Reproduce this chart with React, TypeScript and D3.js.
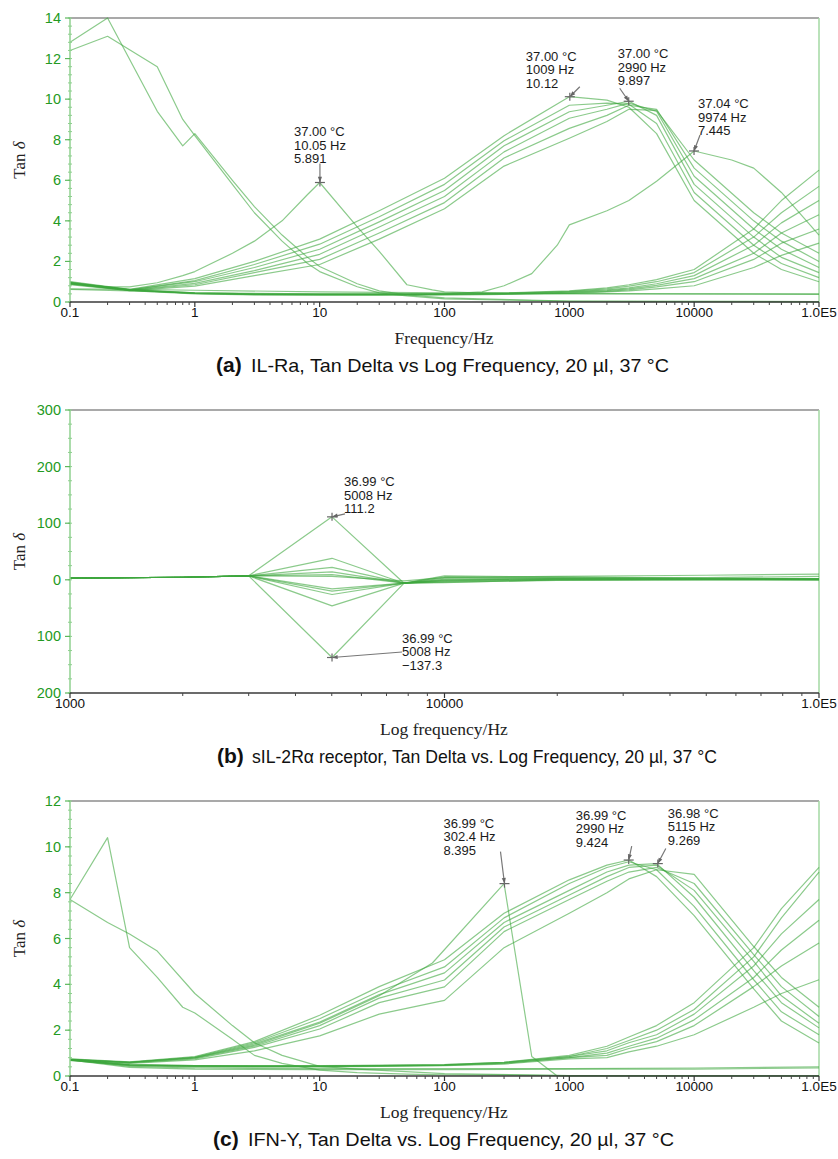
import { useEffect, useRef } from 'react';
import * as d3 from 'd3';

type Series = [number, number][];

// ---------- panel (a): IL-Ra ----------
const A_FREQ = [0.1, 0.3, 1, 3, 10, 30, 100, 300, 1000, 2000, 3000, 5000, 10000, 30000, 50000, 100000];
// bundle that rises to a peak near 1-5 kHz
const A_PEAK = [
  [0.95, 0.62, 1.15, 2.0, 3.1, 4.5, 6.1, 8.2, 10.12, 9.95, 9.6, 8.3, 5.0, 2.4, 1.6, 1.0],
  [0.93, 0.6, 1.05, 1.85, 2.85, 4.2, 5.8, 7.95, 9.7, 9.8, 9.75, 8.8, 5.4, 2.8, 1.9, 1.2],
  [0.92, 0.6, 1.0, 1.7, 2.6, 3.95, 5.5, 7.7, 9.38, 9.7, 9.897, 9.2, 5.8, 3.2, 2.2, 1.45],
  [0.9, 0.58, 0.92, 1.55, 2.35, 3.7, 5.2, 7.4, 9.06, 9.5, 9.8, 9.4, 6.2, 3.6, 2.6, 1.7],
  [0.88, 0.58, 0.85, 1.45, 2.1, 3.4, 4.9, 7.1, 8.56, 9.2, 9.7, 9.5, 6.6, 4.0, 3.0, 2.0],
  [0.85, 0.56, 0.78, 1.3, 1.85, 3.1, 4.6, 6.7, 8.07, 8.9, 9.5, 9.45, 7.0, 4.4, 3.4, 2.4],
];
// bundle that stays low and rises above 10 kHz
const A_LATE = [
  [1.0, 0.62, 0.45, 0.4, 0.4, 0.4, 0.42, 0.45, 0.55, 0.7, 0.85, 1.1, 1.6, 3.6, 5.0, 6.5],
  [0.98, 0.6, 0.45, 0.4, 0.38, 0.38, 0.4, 0.43, 0.52, 0.65, 0.78, 1.0, 1.45, 3.2, 4.4, 5.7],
  [0.96, 0.6, 0.43, 0.38, 0.37, 0.37, 0.38, 0.42, 0.5, 0.6, 0.7, 0.9, 1.3, 2.8, 3.9, 5.0],
  [0.95, 0.58, 0.42, 0.37, 0.36, 0.36, 0.37, 0.4, 0.48, 0.56, 0.65, 0.82, 1.15, 2.4, 3.4, 4.3],
  [0.93, 0.58, 0.42, 0.36, 0.35, 0.35, 0.36, 0.38, 0.45, 0.52, 0.6, 0.75, 1.0, 2.1, 2.9, 3.6],
  [0.9, 0.56, 0.4, 0.35, 0.34, 0.34, 0.35, 0.37, 0.43, 0.5, 0.55, 0.65, 0.8, 1.7, 2.3, 2.9],
];
const A_HIGH_FREQ = [0.1, 0.2, 0.5, 0.8, 1, 2, 3, 5, 8, 10, 20, 30, 50, 100, 1000, 100000];
const A_HIGH_1 = [12.8, 14.0, 9.4, 7.7, 8.3, 6.0, 4.7, 3.3, 2.2, 1.75, 0.9, 0.55, 0.35, 0.2, 0.05, 0.02];
const A_HIGH_2 = [12.4, 13.1, 11.6, 9.0, 8.2, 5.8, 4.4, 3.0, 1.9, 1.5, 0.75, 0.45, 0.3, 0.15, 0.03, 0.0];
const A_SPIKE_FREQ = [0.1, 0.2, 0.3, 0.5, 0.8, 1, 2, 3, 5, 8, 10, 20, 30, 50, 80, 100, 300, 1000, 100000];
const A_SPIKE = [0.9, 0.75, 0.75, 0.95, 1.3, 1.5, 2.4, 3.0, 4.0, 5.3, 5.891, 3.7, 2.5, 0.85, 0.6, 0.5, 0.42, 0.4, 0.38];
const A_MID_FREQ = [0.1, 0.3, 1, 10, 100, 200, 300, 500, 800, 1000, 2000, 3000, 5000, 10000, 20000, 30000, 50000, 100000];
const A_MID = [0.62, 0.55, 0.45, 0.4, 0.4, 0.5, 0.8, 1.4, 2.8, 3.8, 4.5, 5.0, 5.95, 7.445, 7.0, 6.6, 5.4, 3.3];
const A_FLAT_FREQ = [0.1, 0.3, 1, 10, 100, 1000, 100000];
const A_FLAT = [0.65, 0.62, 0.58, 0.5, 0.45, 0.42, 0.4];

// ---------- panel (b): sIL-2Ra receptor ----------
const B_FREQ = [1000, 2000, 3000, 5008, 7800, 10000, 20000, 50000, 100000];
const B_VALUES = [
  [3, 4.5, 7, 111.2, -6, 7, 5, 3, 2],
  [3, 4.5, 7, 38, -6, 5, 4, 2, 2],
  [3, 4.5, 7, 22, -6, 3, 3, 2, 1],
  [3, 4.5, 7, 14, -6, 1, 2, 1, 1],
  [3, 4.5, 7, 9, -6, -1, 1, 1, 0],
  [3, 4.5, 7, -16, -6, -3, 0, 0, 0],
  [3, 4.5, 7, -20, -6, -4, -1, 0, 0],
  [3, 4.5, 7, -26, -6, -5, 0, 1, 1],
  [3, 4.5, 7, -46, -6, -2, 1, 1, 2],
  [3, 4.5, 7, -137.3, -6, 0, 2, 4, 6],
  [3, 4.5, 7, 6, -2, 4, 6, 8, 10],
];

// ---------- panel (c): IFN-Y ----------
const C_FREQ = [0.1, 0.3, 1, 3, 10, 30, 100, 300, 1000, 2000, 3000, 5000, 10000, 30000, 50000, 100000];
const C_PEAK = [
  [0.75, 0.62, 0.85, 1.5, 2.65, 3.9, 5.07, 7.1, 8.56, 9.2, 9.424, 8.7, 7.0, 3.8, 2.4, 1.44],
  [0.74, 0.6, 0.82, 1.45, 2.5, 3.7, 4.76, 6.9, 8.4, 9.1, 9.35, 9.0, 7.4, 4.2, 2.8, 1.8],
  [0.72, 0.6, 0.8, 1.4, 2.35, 3.55, 4.5, 6.7, 8.1, 8.9, 9.2, 9.269, 7.8, 4.6, 3.2, 2.1],
  [0.72, 0.58, 0.78, 1.3, 2.2, 3.4, 4.19, 6.5, 7.9, 8.7, 9.1, 9.2, 8.1, 5.0, 3.5, 2.3],
  [0.7, 0.57, 0.75, 1.25, 2.05, 3.2, 3.89, 6.3, 7.7, 8.5, 8.9, 9.1, 8.4, 5.3, 3.9, 2.6],
  [0.7, 0.55, 0.7, 1.1, 1.75, 2.7, 3.3, 5.6, 7.1, 8.0, 8.6, 9.0, 8.8, 5.65, 4.3, 3.0],
];
const C_LATE = [
  [0.72, 0.5, 0.45, 0.45, 0.45, 0.47, 0.5, 0.6, 0.9, 1.3, 1.7, 2.2, 3.2, 5.6, 7.3, 9.1],
  [0.72, 0.5, 0.45, 0.44, 0.44, 0.46, 0.5, 0.6, 0.85, 1.2, 1.55, 2.0, 2.9, 5.2, 6.9, 8.9],
  [0.7, 0.48, 0.44, 0.43, 0.43, 0.45, 0.48, 0.58, 0.85, 1.1, 1.45, 1.8, 2.7, 4.8, 6.2, 7.7],
  [0.7, 0.48, 0.43, 0.42, 0.42, 0.44, 0.47, 0.56, 0.8, 1.0, 1.3, 1.65, 2.45, 4.3, 5.5, 6.8],
  [0.68, 0.46, 0.42, 0.41, 0.41, 0.43, 0.46, 0.55, 0.8, 0.9, 1.2, 1.5, 2.2, 3.9, 4.8, 5.8],
  [0.68, 0.45, 0.4, 0.4, 0.4, 0.42, 0.45, 0.52, 0.75, 0.8, 1.05, 1.3, 1.8, 3.0, 3.6, 4.2],
];
const C_HIGH_1_FREQ = [0.1, 0.2, 0.3, 0.5, 0.8, 1, 2, 3, 5, 10, 20, 50, 100, 1000, 100000];
const C_HIGH_1 = [7.7, 10.4, 5.6, 4.3, 3.0, 2.75, 1.6, 0.9, 0.55, 0.26, 0.15, 0.08, 0.05, 0.02, 0.02];
const C_HIGH_2_FREQ = [0.1, 0.2, 0.3, 0.5, 1, 2, 3, 5, 10, 20, 100, 1000, 100000];
const C_HIGH_2 = [7.7, 6.7, 6.2, 5.45, 3.6, 2.2, 1.45, 0.9, 0.42, 0.3, 0.1, 0.02, 0.0];
const C_SPIKE_FREQ = [0.1, 0.3, 1, 3, 10, 30, 80, 300, 500, 800, 100000];
const C_SPIKE = [0.72, 0.6, 0.8, 1.35, 2.3, 3.5, 4.93, 8.395, 0.85, 0.0, 0.0];
const C_FLAT_FREQ = [0.1, 0.3, 1, 10, 100, 1000, 10000, 100000];
const C_FLAT_1 = [0.72, 0.42, 0.35, 0.32, 0.32, 0.32, 0.35, 0.4];
const C_FLAT_2 = [0.7, 0.38, 0.3, 0.28, 0.28, 0.3, 0.3, 0.35];

// tick labels
const DECADE_TICKS = [0.1, 1, 10, 100, 1000, 10000, 100000];
const B_TICKS = [1000, 10000, 100000];
const fmtFreq = (f: number) => (f >= 100000 ? '1.0E5' : String(f));

// annotations: [freq, value, line1, line2, line3, text dx, text dy, arrow dx, arrow dy]
type Note = [number, number, string, string, string, number, number, number, number];
const A_NOTES: Note[] = [
  [10.05, 5.891, '37.00 °C', '10.05 Hz', '5.891', -26, -46, 0, -19],
  [1009, 10.12, '37.00 °C', '1009 Hz', '10.12', -44, -36, 10, -10],
  [2990, 9.897, '37.00 °C', '2990 Hz', '9.897', -11, -43, -9, -13],
  [9974, 7.445, '37.04 °C', '9974 Hz', '7.445', 4, -42.5, 6, -16],
];
const B_NOTES: Note[] = [
  [5008, 111.2, '36.99 °C', '5008 Hz', '111.2', 12, -30.5, 13, -3],
  [5008, -137.3, '36.99 °C', '5008 Hz', '\u2212137.3', 70, -15, 70, -5.5],
];
const C_NOTES: Note[] = [
  [302.4, 8.395, '36.99 °C', '302.4 Hz', '8.395', -61, -56, -4, -32],
  [2990, 9.424, '36.99 °C', '2990 Hz', '9.424', -53, -40.5, 3, -14],
  [5115, 9.269, '36.98 °C', '5115 Hz', '9.269', 10, -46, 8, -15],
];

const zip = (fs: number[], vs: number[]): Series => fs.map((f, i) => [f, vs[i]]);

interface PanelSpec {
  top: number;
  bottom: number;
  xDomain: [number, number];
  yDomain: [number, number];
  yStep: number;
  yMinor: number;
  xTicks: number[];
  series: Series[];
  notes: Note[];
  xTitle: string;
  letter: string;
  caption: string;
  capX: number;
  capLen: number;
  absLabels?: boolean;
}

const LEFT = 70;
const RIGHT = 819;
const LINE_GREEN = '#3ea63e';
const TICK_GREEN = '#239a23';
const SANS = "'Liberation Sans', Arial, sans-serif";
const SERIF = "'Liberation Serif', 'Times New Roman', serif";
const NARROW = "'Liberation Sans Narrow', 'Arial Narrow', 'Liberation Sans', sans-serif";

function drawPanel(svg: d3.Selection<SVGSVGElement, unknown, null, undefined>, p: PanelSpec) {
  const x = d3.scaleLog().domain(p.xDomain).range([LEFT, RIGHT]);
  const y = d3.scaleLinear().domain(p.yDomain).range([p.bottom, p.top]);
  const g = svg.append('g');

  // frame
  g.append('line').attr('x1', LEFT).attr('x2', RIGHT).attr('y1', p.top).attr('y2', p.top)
    .attr('stroke', '#8c8c8c').attr('stroke-width', 1.5);
  g.append('line').attr('x1', RIGHT).attr('x2', RIGHT).attr('y1', p.top).attr('y2', p.bottom)
    .attr('stroke', '#a3d8a3').attr('stroke-width', 1.5);

  // curves
  const line = d3.line<[number, number]>().x(d => x(d[0])).y(d => y(d[1]));
  p.series.forEach(s => {
    g.append('path').attr('d', line(s) || '')
      .attr('fill', 'none').attr('stroke', LINE_GREEN)
      .attr('stroke-opacity', 0.6).attr('stroke-width', 1.2)
      .attr('stroke-linejoin', 'round');
  });

  // left axis
  g.append('line').attr('x1', LEFT).attr('x2', LEFT).attr('y1', p.top).attr('y2', p.bottom)
    .attr('stroke', '#8fd08f').attr('stroke-width', 1.5);
  const [y0, y1] = p.yDomain;
  d3.range(y0, y1 + 1e-6, p.yMinor).forEach(v => {
    g.append('line').attr('x1', LEFT - 2).attr('x2', LEFT + 2).attr('y1', y(v)).attr('y2', y(v))
      .attr('stroke', '#8fd08f').attr('stroke-width', 1);
  });
  d3.range(y0, y1 + 1e-6, p.yStep).forEach(v => {
    g.append('line').attr('x1', LEFT - 5).attr('x2', LEFT).attr('y1', y(v)).attr('y2', y(v))
      .attr('stroke', '#5cb85c').attr('stroke-width', 1.2);
    g.append('text').attr('x', LEFT - 9).attr('y', y(v) + 5)
      .attr('text-anchor', 'end').attr('font-family', SANS).attr('font-size', 14.5)
      .attr('fill', TICK_GREEN)
      .text(p.absLabels ? String(Math.abs(v)) : String(v));
  });

  // y title
  const ym = (p.top + p.bottom) / 2;
  const yt = g.append('text').attr('transform', `translate(25,${ym}) rotate(-90)`)
    .attr('text-anchor', 'middle').attr('font-family', SERIF).attr('font-size', 17).attr('fill', '#222');
  yt.append('tspan').text('Tan ');
  yt.append('tspan').attr('font-style', 'italic').text('δ');

  // bottom axis
  g.append('line').attr('x1', LEFT).attr('x2', RIGHT).attr('y1', p.bottom).attr('y2', p.bottom)
    .attr('stroke', '#3a3a3a').attr('stroke-width', 1.6);
  const [xa, xb] = p.xDomain;
  for (let d = xa; d < xb * 0.999; d *= 10) {
    for (let k = 2; k <= 9; k++) {
      const f = d * k;
      g.append('line').attr('x1', x(f)).attr('x2', x(f)).attr('y1', p.bottom).attr('y2', p.bottom + 3)
        .attr('stroke', '#444').attr('stroke-width', 1);
    }
  }
  p.xTicks.forEach(f => {
    g.append('line').attr('x1', x(f)).attr('x2', x(f)).attr('y1', p.bottom).attr('y2', p.bottom + 5)
      .attr('stroke', '#333').attr('stroke-width', 1.2);
    g.append('text').attr('x', x(f)).attr('y', p.bottom + 15)
      .attr('text-anchor', 'middle').attr('font-family', SANS).attr('font-size', 13.5)
      .attr('fill', '#111').text(fmtFreq(f));
  });

  g.append('text').attr('x', 444).attr('y', p.bottom + 42)
    .attr('text-anchor', 'middle').attr('font-family', SERIF).attr('font-size', 17.5)
    .attr('fill', '#222').text(p.xTitle);

  // caption: bold letter, then text squeezed to the reference width
  g.append('text').attr('x', p.capX).attr('y', p.bottom + 70)
    .attr('font-family', SANS).attr('font-weight', 'bold').attr('font-size', 21)
    .attr('fill', '#111').text(p.letter);
  g.append('text').attr('x', p.capX + 35).attr('y', p.bottom + 70)
    .attr('font-family', NARROW).attr('font-size', 19)
    .attr('textLength', p.capLen).attr('lengthAdjust', 'spacingAndGlyphs')
    .attr('fill', '#111').text(p.caption);

  // annotations
  p.notes.forEach(([f, v, l1, l2, l3, tdx, tdy, adx, ady]) => {
    const px = x(f);
    const py = y(v);
    g.append('line').attr('x1', px - 5).attr('x2', px + 5).attr('y1', py).attr('y2', py)
      .attr('stroke', '#666').attr('stroke-width', 1.2);
    g.append('line').attr('x1', px).attr('x2', px).attr('y1', py - 4).attr('y2', py + 4)
      .attr('stroke', '#666').attr('stroke-width', 1.2);
    const ax = px + adx;
    const ay = py + ady;
    g.append('line').attr('x1', ax).attr('y1', ay).attr('x2', px).attr('y2', py)
      .attr('stroke', '#777').attr('stroke-width', 1.2);
    const ang = Math.atan2(py - ay, px - ax);
    const hl = 6;
    const pts: [number, number][] = [
      [px, py],
      [px - hl * Math.cos(ang - 0.35), py - hl * Math.sin(ang - 0.35)],
      [px - hl * Math.cos(ang + 0.35), py - hl * Math.sin(ang + 0.35)],
    ];
    g.append('polygon').attr('points', pts.map(q => q.join(',')).join(' ')).attr('fill', '#666');
    [l1, l2, l3].forEach((s, i) => {
      g.append('text').attr('x', px + tdx).attr('y', py + tdy + i * 13.5)
        .attr('font-family', SANS).attr('font-size', 13).attr('fill', '#1a1a1a').text(s);
    });
  });
}

export default function App() {
  const svgRef = useRef<SVGSVGElement>(null);

  useEffect(() => {
    if (!svgRef.current) return;
    const svg = d3.select(svgRef.current);
    svg.selectAll('*').remove();

    const aSeries: Series[] = [
      ...A_PEAK.map(v => zip(A_FREQ, v)),
      ...A_LATE.map(v => zip(A_FREQ, v)),
      zip(A_HIGH_FREQ, A_HIGH_1),
      zip(A_HIGH_FREQ, A_HIGH_2),
      zip(A_SPIKE_FREQ, A_SPIKE),
      zip(A_MID_FREQ, A_MID),
      zip(A_FLAT_FREQ, A_FLAT),
    ];
    const bSeries: Series[] = B_VALUES.map(v => zip(B_FREQ, v));
    const cSeries: Series[] = [
      ...C_PEAK.map(v => zip(C_FREQ, v)),
      ...C_LATE.map(v => zip(C_FREQ, v)),
      zip(C_HIGH_1_FREQ, C_HIGH_1),
      zip(C_HIGH_2_FREQ, C_HIGH_2),
      zip(C_SPIKE_FREQ, C_SPIKE),
      zip(C_FLAT_FREQ, C_FLAT_1),
      zip(C_FLAT_FREQ, C_FLAT_2),
    ];

    drawPanel(svg, {
      top: 18, bottom: 302, xDomain: [0.1, 100000], yDomain: [0, 14], yStep: 2, yMinor: 0.4,
      xTicks: DECADE_TICKS, series: aSeries, notes: A_NOTES, xTitle: 'Frequency/Hz',
      letter: '(a)', caption: 'IL-Ra, Tan Delta vs Log Frequency, 20 µl, 37 °C',
      capX: 216, capLen: 418,
    });
    drawPanel(svg, {
      top: 410, bottom: 693, xDomain: [1000, 100000], yDomain: [-200, 300], yStep: 100, yMinor: 25,
      xTicks: B_TICKS, series: bSeries, notes: B_NOTES, xTitle: 'Log frequency/Hz',
      letter: '(b)', caption: 'sIL-2Rα receptor, Tan Delta vs. Log Frequency, 20 µl, 37 °C', absLabels: true,
      capX: 217, capLen: 465,
    });
    drawPanel(svg, {
      top: 801, bottom: 1076, xDomain: [0.1, 100000], yDomain: [0, 12], yStep: 2, yMinor: 0.4,
      xTicks: DECADE_TICKS, series: cSeries, notes: C_NOTES, xTitle: 'Log frequency/Hz',
      letter: '(c)', caption: 'IFN-Y, Tan Delta vs. Log Frequency, 20 µl, 37 °C',
      capX: 213, capLen: 426,
    });
  }, []);

  return (
    <svg
      ref={svgRef}
      width={838}
      height={1159}
      style={{ position: 'absolute', left: 0, top: 0, background: '#fff' }}
    />
  );
}
